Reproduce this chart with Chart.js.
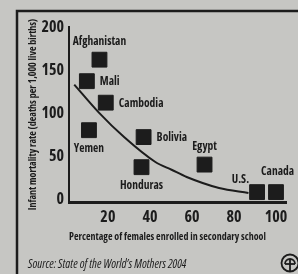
<!DOCTYPE html>
<html>
<head>
<meta charset="utf-8">
<script src="https://cdn.jsdelivr.net/npm/chart.js@4/dist/chart.umd.min.js"></script>
<style>
html,body{margin:0;padding:0;background:#c6c6c3;}
canvas{display:block;}
</style>
</head>
<body>
<canvas id="c" width="298" height="274"></canvas>
<script>
const countries = ["Afghanistan","Mali","Cambodia","Yemen","Bolivia","Honduras","Egypt","U.S.","Canada"];
const femaleEnrollment = [16, 10, 19, 11, 37, 36, 66, 91, 100];
const infantMortality = [162, 137, 112, 80, 72, 37, 40, 8, 8];
const trendX = [4, 15.5, 27.7, 42.6, 50.3, 57.5, 72.9, 86.9];
const trendY = [133, 101, 72, 43, 34, 25.6, 12.8, 7];
const xTicks = [20, 40, 60, 80, 100];
const yTicks = [0, 50, 100, 150, 200];

const labelPlacement = {
  "Afghanistan":"above","Mali":"right","Cambodia":"right","Yemen":"below",
  "Bolivia":"right","Honduras":"below","Egypt":"above","U.S.":"upleft","Canada":"abovestart"
};

const FONT = "'Open Sans','DejaVu Sans Condensed',sans-serif";
const W = 'bold condensed';
const INK = '#1c1c1c';

const decor = {
  id:'decor',
  beforeDraw(chart){
    const ctx = chart.ctx;
    ctx.save();
    ctx.strokeStyle = INK;
    ctx.lineWidth = 2.5;
    ctx.beginPath();
    ctx.moveTo(17, 274); ctx.lineTo(17, 11); ctx.lineTo(298, 11);
    ctx.stroke();
    ctx.restore();
  },
  afterDraw(chart){
    const ctx = chart.ctx;
    const meta = chart.getDatasetMeta(0);
    ctx.save();
    ctx.fillStyle = INK;
    ctx.font = W + " 11.5px " + FONT;
    meta.data.forEach((pt, i) => {
      const name = countries[i];
      const p = labelPlacement[name];
      ctx.textBaseline = 'middle';
      if (p === 'above') { ctx.textAlign = 'center'; ctx.fillText(name, pt.x, pt.y - 18); }
      else if (p === 'abovestart') { ctx.textAlign = 'left'; ctx.fillText(name, pt.x - 15, pt.y - 20); }
      else if (p === 'below') { ctx.textAlign = 'center'; ctx.fillText(name, pt.x, pt.y + 19); }
      else if (p === 'right') { ctx.textAlign = 'left'; ctx.fillText(name, pt.x + 13, pt.y + 1); }
      else if (p === 'upleft') { ctx.textAlign = 'right'; ctx.fillText(name, pt.x - 8, pt.y - 12); }
    });
    ctx.textAlign = 'left';
    ctx.textBaseline = 'middle';
    ctx.font = "italic condensed 12px " + FONT;
    ctx.fillText("Source: State of the World\u2019s Mothers 2004", 28, 265);
    ctx.strokeStyle = INK;
    ctx.lineWidth = 1.8;
    ctx.beginPath(); ctx.arc(290, 263, 8.5, 0, Math.PI*2); ctx.stroke();
    ctx.beginPath(); ctx.arc(290, 264, 5, Math.PI, 0); ctx.stroke();
    ctx.beginPath(); ctx.moveTo(290, 259); ctx.lineTo(290, 271); ctx.stroke();
    ctx.beginPath(); ctx.moveTo(285, 264); ctx.lineTo(295, 264); ctx.stroke();
    ctx.restore();
  }
};

new Chart(document.getElementById('c'), {
  type: 'scatter',
  data: {
    datasets: [
      {
        label: 'Countries',
        data: femaleEnrollment.map((x, i) => ({x, y: infantMortality[i]})),
        pointStyle: 'rect',
        pointRadius: 10.5,
        backgroundColor: INK,
        borderColor: INK,
        borderWidth: 1,
        order: 0
      },
      {
        label: 'Trend',
        data: trendX.map((x, i) => ({x, y: trendY[i]})),
        showLine: true,
        pointRadius: 0,
        borderColor: INK,
        borderWidth: 2,
        tension: 0.4,
        cubicInterpolationMode: 'monotone',
        order: 1
      }
    ]
  },
  options: {
    responsive: false,
    animation: false,
    events: [],
    layout: { padding: { top: 27, left: 17, right: 0, bottom: 0 } },
    plugins: { legend: { display: false }, tooltip: { enabled: false } },
    scales: {
      x: {
        type: 'linear',
        min: 1.5, max: 105,
        afterBuildTicks: s => { s.ticks = xTicks.map(v => ({value: v})); },
        afterFit: s => { s.height = 72; s.paddingLeft = 0; s.paddingRight = 0; },
        grid: { display: false, drawTicks: false },
        border: { display: true, color: INK, width: 3 },
        ticks: { color: INK, padding: 6, font: { family: FONT, size: 16, weight: W } },
        title: {
          display: true, text: 'Percentage of females enrolled in secondary school',
          align: 'start', color: INK,
          font: { family: FONT, size: 10, weight: W },
          padding: { top: 0, bottom: 31 }
        }
      },
      y: {
        type: 'linear',
        min: -3.5, max: 200,
        afterBuildTicks: s => { s.ticks = yTicks.map(v => ({value: v})); },
        afterFit: s => { s.width = 52; s.paddingTop = 0; s.paddingBottom = 0; },
        grid: { display: false, drawTicks: false },
        border: { display: true, color: INK, width: 2 },
        ticks: { color: INK, padding: 5, font: { family: FONT, size: 16, weight: W } },
        title: {
          display: true, text: 'Infant mortality rate (deaths per 1,000 live births)',
          color: INK,
          font: { family: FONT, size: 10, weight: W },
          padding: { top: 10, bottom: 0 }
        }
      }
    }
  },
  plugins: [decor]
});
</script>
</body>
</html>
